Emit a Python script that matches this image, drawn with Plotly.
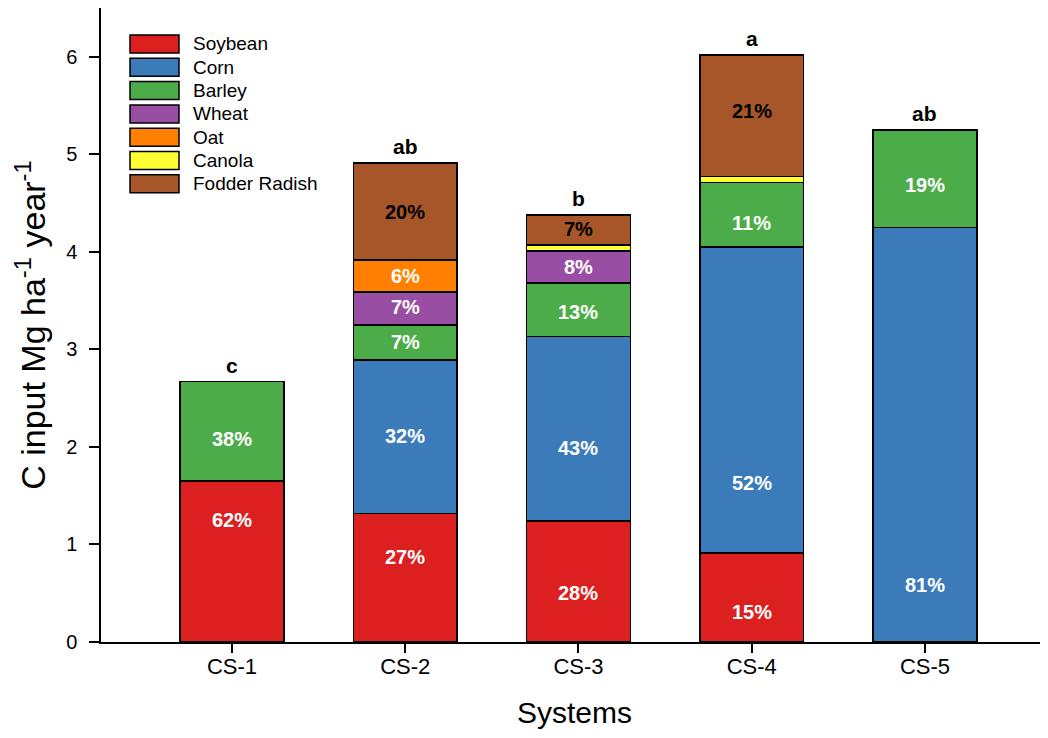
import plotly.graph_objects as go

# ---------------- data ----------------
systems = ["CS-1", "CS-2", "CS-3", "CS-4", "CS-5"]
crops = ["Soybean", "Corn", "Barley", "Wheat", "Oat", "Canola", "Fodder Radish"]

soybean = [1.65, 1.32, 1.24, 0.91, None]
corn = [None, 1.57, 1.89, 3.14, 4.25]
barley = [1.02, 0.36, 0.55, 0.66, 1.00]
wheat = [None, 0.34, 0.33, None, None]
oat = [None, 0.32, None, None, None]
canola = [None, 0.01, 0.06, 0.06, None]
fodder = [None, 0.99, 0.31, 1.25, None]

soybean_pct = ["62%", "27%", "28%", "15%", None]
corn_pct = [None, "32%", "43%", "52%", "81%"]
barley_pct = ["38%", "7%", "13%", "11%", "19%"]
wheat_pct = [None, "7%", "8%", None, None]
oat_pct = [None, "6%", None, None, None]
canola_pct = [None, None, None, None, None]
fodder_pct = [None, "20%", "7%", "21%", None]

letters = ["c", "ab", "b", "a", "ab"]

# ---------------- layout / style ----------------
colors = ["#DC1F1F", "#3B7BBA", "#4DAC4A", "#984EA3", "#FF7F00", "#FFFF33", "#A65628"]
pct_colors = ["white", "white", "white", "white", "white", "white", "black"]

# label placement (data y) for each percentage label
soybean_lab_y = [1.25, 0.87, 0.50, 0.31, None]
corn_lab_y = [None, 2.11, 1.99, 1.63, 0.58]
barley_lab_y = [2.08, 3.08, 3.38, 4.30, 4.69]
wheat_lab_y = [None, 3.43, 3.84, None, None]
oat_lab_y = [None, 3.75, None, None, None]
canola_lab_y = [None, None, None, None, None]
fodder_lab_y = [None, 4.41, 4.23, 5.44, None]

values = [soybean, corn, barley, wheat, oat, canola, fodder]
pcts = [soybean_pct, corn_pct, barley_pct, wheat_pct, oat_pct, canola_pct, fodder_pct]
lab_ys = [soybean_lab_y, corn_lab_y, barley_lab_y, wheat_lab_y, oat_lab_y, canola_lab_y, fodder_lab_y]

FONT = "Liberation Sans, Arial, sans-serif"
BODY = 8  # default page body margin in the browser
W, H = 1048 - BODY, 738 - BODY
ML, MR, MT, MB = 101 - BODY, 0, 8 - BODY, 96
PW, PH = W - ML - MR, H - MT - MB

fig = go.Figure()
for name, vals, col in zip(crops, values, colors):
    fig.add_trace(go.Bar(
        x=systems, y=vals, name=name,
        marker=dict(color=col, line=dict(color="black", width=1.5)),
        showlegend=False,
    ))

annotations = []
for pct, ly, pc in zip(pcts, lab_ys, pct_colors):
    for s, t, yv in zip(systems, pct, ly):
        if t is None:
            continue
        annotations.append(dict(
            x=s, y=yv, xref="x", yref="y", text=f"<b>{t}</b>", showarrow=False,
            font=dict(family=FONT, size=20, color=pc),
        ))

for i, s in enumerate(systems):
    total = sum(v[i] for v in values if v[i] is not None)
    annotations.append(dict(
        x=s, y=total, xref="x", yref="y", text=f"<b>{letters[i]}</b>", showarrow=False,
        yanchor="bottom", yshift=3, font=dict(family=FONT, size=21, color="black"),
    ))

# custom legend (wide boxes, as in the reference); page-pixel helpers
def px(x):
    return (x - BODY - ML) / PW

def py(y):
    return (H + BODY - MB - y) / PH

shapes = []
for i, (name, col) in enumerate(zip(crops, colors)):
    top = 35 + 23.3 * i
    shapes.append(dict(
        type="rect", xref="paper", yref="paper",
        x0=px(130), x1=px(179), y0=py(top + 18), y1=py(top),
        fillcolor=col, line=dict(color="black", width=1.5),
    ))
    annotations.append(dict(
        x=px(191), y=py(top + 9), xref="paper", yref="paper", text=name,
        showarrow=False, xanchor="left", yanchor="middle",
        font=dict(family=FONT, size=19, color="black"),
    ))

fig.update_layout(
    width=W, height=H,
    margin=dict(l=ML, r=MR, t=MT, b=MB, pad=0),
    plot_bgcolor="white", paper_bgcolor="white",
    barmode="stack", bargap=0.4,
    font=dict(family=FONT, color="black"),
    annotations=annotations, shapes=shapes,
    xaxis=dict(
        range=[-0.756, 4.71], showline=True, linecolor="black", linewidth=1.5,
        ticks="outside", ticklen=9, tickwidth=1.5, tickcolor="black",
        tickfont=dict(family=FONT, size=22), showgrid=False, zeroline=False,
        ticklabelstandoff=-5,
        automargin=False,
        title=dict(text="Systems", font=dict(family=FONT, size=30), standoff=24),
    ),
    yaxis=dict(
        range=[0, 6.5], showline=True, linecolor="black", linewidth=1.5,
        ticks="outside", ticklen=10, tickwidth=1.5, tickcolor="black",
        tickvals=[0, 1, 2, 3, 4, 5, 6],
        tickfont=dict(family=FONT, size=20), showgrid=False, zeroline=False,
        ticklabelstandoff=8,
        automargin=False,
        title=dict(text="C input Mg ha<sup>-1</sup> year<sup>-1</sup>",
                   font=dict(family=FONT, size=34), standoff=10),
    ),
)

fig.write_html("out.html")
